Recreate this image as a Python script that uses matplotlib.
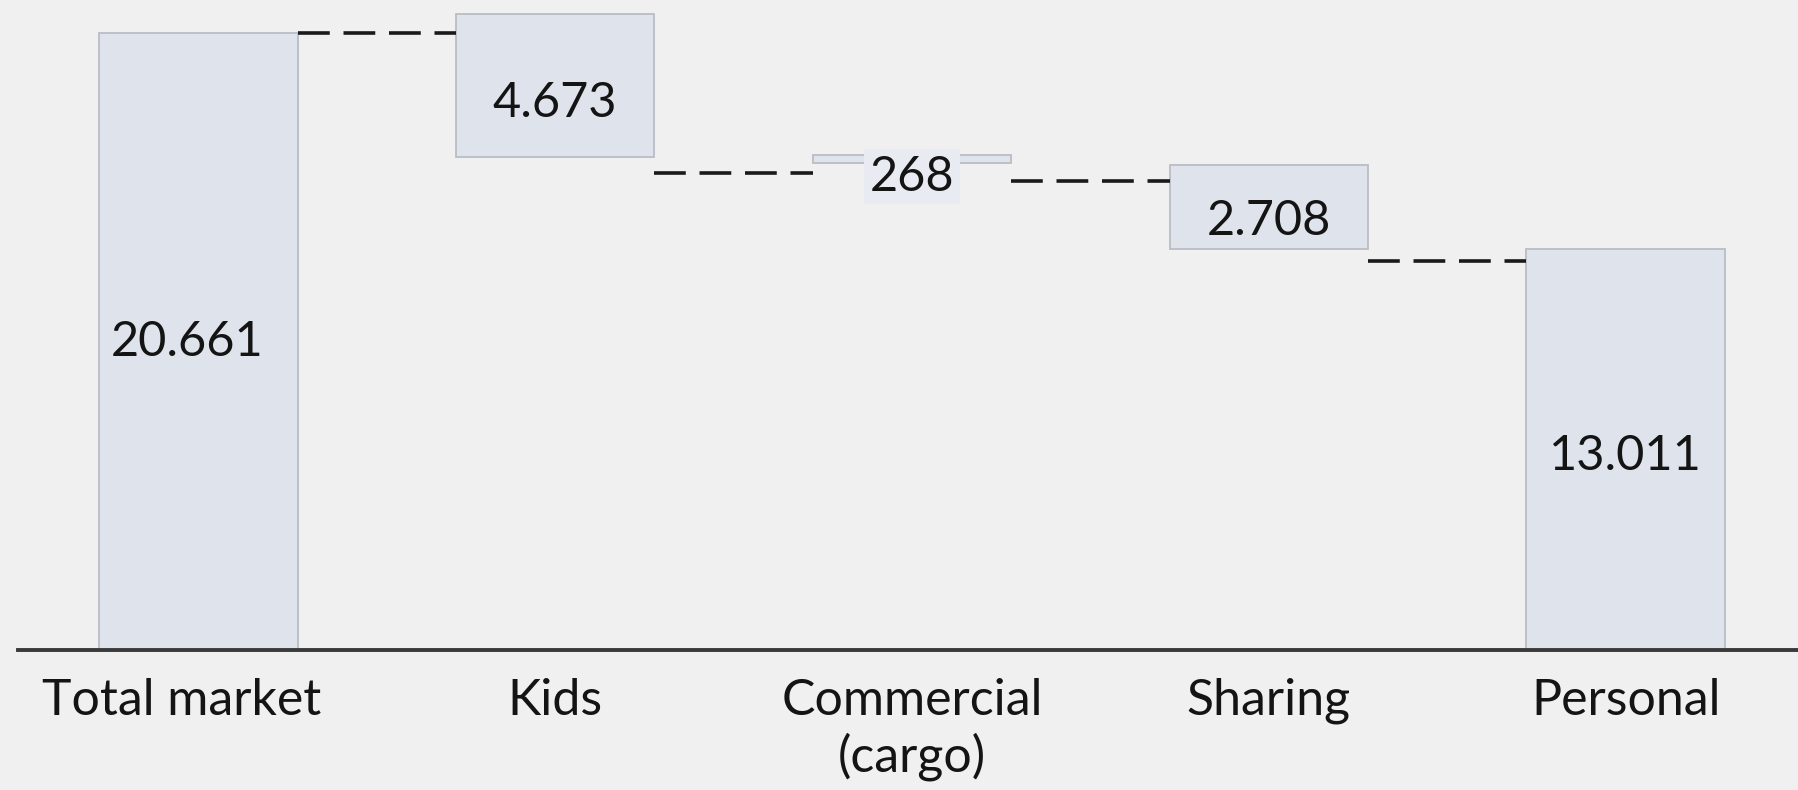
import matplotlib
matplotlib.use("Agg")
import matplotlib.pyplot as plt
from matplotlib.transforms import blended_transform_factory

# values in thousands (labels use a dot as thousands separator)
categories = ["Total market", "Kids", "Commercial\n(cargo)", "Sharing", "Personal"]
values = [20661, 4673, 268, 2708, 13011]
value_labels = ["20.661", "4.673", "268", "2.708", "13.011"]

# box extents as drawn in the picture (thousands)
box_bottom = [0.0, 16.51, 16.31, 13.43, 0.0]
box_top = [20.661, 21.30, 16.58, 16.24, 13.43]

BG = "#f0f0f0"
BAR_FILL = "#dfe3eb"
BAR_EDGE = "#b9bdc4"
TEXT = "#141414"

plt.rcParams['font.family'] = ['Lato', 'DejaVu Sans']

fig = plt.figure(figsize=(17.99, 7.90), dpi=100)
fig.patch.set_facecolor(BG)
ax = fig.add_axes([0, 0, 1, 1])
ax.set_facecolor(BG)
ax.set_axis_off()

px_per_k = 29.86
ax.set_xlim(-0.555, 4.485)
ax.set_ylim(-140 / px_per_k, 650 / px_per_k)

x = list(range(len(categories)))
width = 0.557

# running level for connectors and label centres
levels = [values[0] / 1000]
for v in values[1:4]:
    levels.append(levels[-1] - v / 1000)
label_mid = [values[0] / 2000]
for i in range(1, 4):
    label_mid.append((levels[i - 1] + levels[i]) / 2)
label_mid.append(values[4] / 2000)

heights = [t - b for t, b in zip(box_top, box_bottom)]
ax.bar(x, heights, bottom=box_bottom, width=width, color=BAR_FILL,
       edgecolor=BAR_EDGE, linewidth=1.3, zorder=2)

# dashed connectors
for i in range(4):
    ax.plot([x[i] + width / 2, x[i + 1] - width / 2], [levels[i], levels[i]],
            color="#1a1a1a", linewidth=2.6, dashes=(8.8, 3.8), zorder=3)

for i, lab in enumerate(value_labels):
    bbox = None
    if i == 2:
        bbox = dict(boxstyle="square,pad=0.12", facecolor="#e8ebf1",
                    edgecolor="none")
    xpos = x[i] - 0.03 if i == 0 else x[i]
    ax.text(xpos, label_mid[i], lab, ha="center", va="center", fontsize=35,
            color=TEXT, zorder=4, bbox=bbox)

# base line
ax.axhline(0, xmin=18 / 1799, xmax=1, color="#3a3a3a", linewidth=2.8, zorder=3)

trans = blended_transform_factory(ax.transData, ax.transAxes)
for i, cat in enumerate(categories):
    xpos = x[i] - 0.045 if i == 0 else x[i]
    ax.text(xpos, 1 - 678 / 790, cat, ha="center", va="top", fontsize=36,
            color=TEXT, transform=trans, linespacing=1.22)

fig.savefig("out.png", dpi=100, facecolor=BG)
